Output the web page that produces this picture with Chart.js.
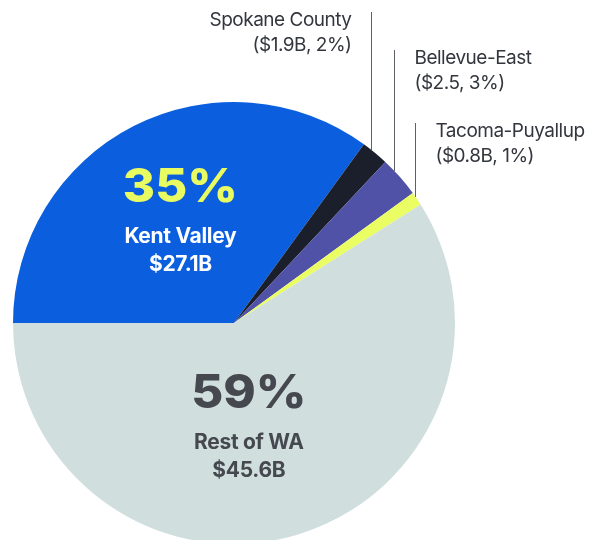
<!DOCTYPE html>
<html>
<head>
<meta charset="utf-8">
<script src="https://cdn.jsdelivr.net/npm/chart.js@4"></script>
<style>
  html, body { margin: 0; padding: 0; background: #fff; overflow: hidden; }
  #wrap { width: 590px; height: 560px; }
</style>
</head>
<body>
<div id="wrap"><canvas id="myChart" width="590" height="560"></canvas></div>
<script>
// Datos
const regions = ['Kent Valley', 'Spokane County', 'Bellevue-East', 'Tacoma-Puyallup', 'Rest of WA'];
const shares = [35, 2, 3, 1, 59];
const amountLabels = ['$27.1B', '$1.9B', '$2.5', '$0.8B', '$45.6B'];
const insideLabel = [true, false, false, false, true];

// Estilos
const sliceColors = ['#0B5FDF', '#1B1F2C', '#4F52A6', '#EAFD63', '#D0DFDE'];
const pctColors = ['#E8FB61', null, null, null, '#45484F'];
const nameColors = ['#FFFFFF', null, null, null, '#45484F'];
const insideAt = [0.484, 0, 0, 0, 0.54];
const outsideSide = [null, 'left', 'right', 'right', null];
const leaderTop = [null, 12, 50, 123, null];

// Plugin: etiquetas y líneas guía
const labelsPlugin = {
  id: 'labels',
  afterDatasetsDraw(chart) {
    const ctx = chart.ctx;
    const meta = chart.getDatasetMeta(0);
    meta.data.forEach((arc, i) => {
      const { x, y, startAngle, endAngle, outerRadius } = arc.getProps(['x', 'y', 'startAngle', 'endAngle', 'outerRadius'], true);
      if (insideLabel[i]) {
        const a = startAngle + (endAngle - startAngle) * insideAt[i];
        const cx = x + Math.cos(a) * outerRadius * 0.5;
        const cy = y + Math.sin(a) * outerRadius * 0.5;
        ctx.save();
        ctx.textAlign = 'center';
        ctx.textBaseline = 'middle';
        ctx.fillStyle = pctColors[i];
        ctx.font = '800 46px Inter';
        ctx.translate(cx, cy - 38);
        ctx.scale(1.07, 1);
        ctx.fillText(shares[i] + '%', 0, 0);
        ctx.restore();
        ctx.save();
        ctx.textAlign = 'center';
        ctx.textBaseline = 'middle';
        ctx.fillStyle = nameColors[i];
        ctx.font = '700 21px Inter';
        ctx.letterSpacing = '-0.3px';
        ctx.fillText(regions[i], cx, cy + 10);
        ctx.fillText(amountLabels[i], cx, cy + 38);
        ctx.restore();
      } else {
        const a = startAngle + (endAngle - startAngle) * 0.3;
        const lx = Math.round(x + Math.cos(a) * outerRadius) + 0.5;
        const dx = lx - x;
        const ly = y - Math.sqrt(outerRadius * outerRadius - dx * dx);
        ctx.save();
        ctx.strokeStyle = '#5C6068';
        ctx.lineWidth = 1;
        ctx.beginPath();
        ctx.moveTo(lx, leaderTop[i]);
        ctx.lineTo(lx, ly);
        ctx.stroke();
        ctx.fillStyle = '#33363D';
        ctx.font = '400 19px Inter';
        ctx.letterSpacing = '-0.5px';
        ctx.textBaseline = 'middle';
        const left = outsideSide[i] === 'left';
        ctx.textAlign = left ? 'right' : 'left';
        const tx = left ? lx - 20 : lx + 20;
        ctx.fillText(regions[i], tx, leaderTop[i] + 8);
        ctx.fillText('(' + amountLabels[i] + ', ' + shares[i] + '%)', tx, leaderTop[i] + 33);
        ctx.restore();
      }
    });
  }
};

const config = {
  type: 'pie',
  data: {
    labels: regions,
    datasets: [{
      data: shares,
      backgroundColor: sliceColors,
      borderWidth: 0
    }]
  },
  options: {
    responsive: false,
    animation: false,
    rotation: -90,
    layout: { padding: { left: 13, right: 135, top: 102, bottom: 16 } },
    plugins: {
      legend: { display: false },
      tooltip: { enabled: false }
    }
  },
  plugins: [labelsPlugin]
};

new Chart(document.getElementById('myChart'), config);
</script>
</body>
</html>
